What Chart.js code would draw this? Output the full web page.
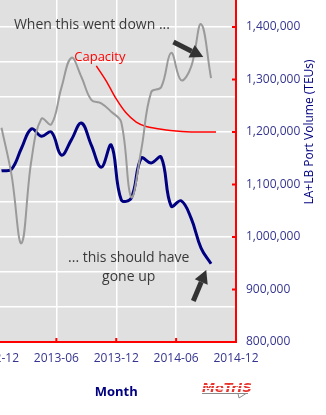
<!DOCTYPE html>
<html>
<head>
<meta charset="utf-8">
<script src="https://cdn.jsdelivr.net/npm/chart.js@4"></script>
<style>
  html, body { margin: 0; padding: 0; background: #fff; overflow: hidden; }
  #wrap { position: relative; width: 326px; height: 415px; overflow: hidden; }
  #wrap canvas { position: absolute; left: -35px; top: -98px; }
</style>
</head>
<body>
<div id="wrap"><canvas id="portChart" width="361" height="513"></canvas></div>
<script>
// monthly series, Dec 2012 - Sep 2014 (plotted mid-month)
const months = ['2012-12', '2013-01', '2013-02', '2013-03', '2013-04', '2013-05', '2013-06',
    '2013-07', '2013-08', '2013-09', '2013-10', '2013-11', '2013-12', '2014-01', '2014-02',
    '2014-03', '2014-04', '2014-05', '2014-06', '2014-07', '2014-08', '2014-09'];
const portVolume = [1126000, 1129000, 1169000, 1206000, 1192000, 1200000, 1156000,
    1185000, 1217000, 1175000, 1133000, 1175000, 1071000, 1074000, 1150000,
    1141000, 1152000, 1059000, 1069000, 1036000, 979000, 949000];
const leadIndex = [90.6, 83.9, 74.1, 86.0, 91.9, 91.1, 96.3,
    100.6, 97.9, 94.6, 94.1, 92.9, 91.4, 80.7, 87.4,
    95.7, 96.4, 101.3, 97.4, 99.3, 105.4, 97.7];

// capacity curve, month starts
const capacityMonths = ['2013-10', '2013-11', '2013-12', '2014-01', '2014-02', '2014-03', '2014-04',
    '2014-05', '2014-06', '2014-07', '2014-08', '2014-09', '2014-10'];
const capacity = [1326000, 1297000, 1263000, 1236000, 1219000, 1210500, 1206700,
    1203800, 1201900, 1200500, 1200000, 1200000, 1200000];

const tickLabels = ['2012-12', '2013-06', '2013-12', '2014-06', '2014-12'];

// text notes and arrows, in (month index, TEU) coordinates
const notes = [
    { text: 'When this went down ...', m: 9.56, v: 1403800, color: '#3a3a3a', size: 14 },
    { text: 'Capacity', m: 10.36, v: 1342900, color: '#ff0000', size: 13 },
    { text: '... this should have', m: 13.25, v: 960000, color: '#3a3a3a', size: 14 },
    { text: 'gone up', m: 13.25, v: 923800, color: '#3a3a3a', size: 14 }
];
const arrows = [
    { from: [17.73, 1371400], to: [20.72, 1342900] },
    { from: [19.72, 878100], to: [21.02, 937100] }
];

const monthIndex = s => {
    const [yr, mo] = s.split('-').map(Number);
    return (yr - 2012) * 12 + mo - 12;
};

const tickColor = '#35358f';
const navy = '#000080';

function drawArrow(ctx, x0, y0, x1, y1) {
    const ang = Math.atan2(y1 - y0, x1 - x0);
    const head = 13, half = 7;
    const bx = x1 - head * Math.cos(ang), by = y1 - head * Math.sin(ang);
    ctx.strokeStyle = '#333';
    ctx.lineWidth = 5;
    ctx.lineCap = 'butt';
    ctx.beginPath();
    ctx.moveTo(x0, y0);
    ctx.lineTo(bx, by);
    ctx.stroke();
    ctx.fillStyle = '#333';
    ctx.beginPath();
    ctx.moveTo(x1, y1);
    ctx.lineTo(bx + half * Math.sin(ang), by - half * Math.cos(ang));
    ctx.lineTo(bx - half * Math.sin(ang), by + half * Math.cos(ang));
    ctx.closePath();
    ctx.fill();
}

const chartArt = {
    id: 'chartArt',
    beforeDraw(chart) {
        const { ctx, chartArea: a } = chart;
        ctx.save();
        ctx.fillStyle = '#e0e0e0';
        ctx.fillRect(a.left, a.top, a.right - a.left, a.bottom - a.top);
        ctx.restore();
    },
    afterDraw(chart) {
        const { ctx, chartArea: a, scales: { x, y } } = chart;
        ctx.save();

        // short red ticks pointing into the plot
        ctx.strokeStyle = '#ff0000';
        ctx.lineWidth = 2;
        ctx.beginPath();
        y.ticks.forEach(t => {
            const py = y.getPixelForValue(t.value);
            ctx.moveTo(a.right - 4, py);
            ctx.lineTo(a.right, py);
        });
        x.ticks.forEach(t => {
            const px = x.getPixelForValue(t.value);
            ctx.moveTo(px, a.bottom - 4);
            ctx.lineTo(px, a.bottom);
        });
        ctx.stroke();

        // notes
        ctx.textAlign = 'center';
        ctx.textBaseline = 'middle';
        notes.forEach(n => {
            ctx.font = n.size + 'px "Open Sans"';
            ctx.fillStyle = n.color;
            ctx.fillText(n.text, x.getPixelForValue(n.m), y.getPixelForValue(n.v));
        });

        arrows.forEach(ar => {
            drawArrow(ctx,
                x.getPixelForValue(ar.from[0]), y.getPixelForValue(ar.from[1]),
                x.getPixelForValue(ar.to[0]), y.getPixelForValue(ar.to[1]));
        });

        // right axis title, reading bottom to top
        ctx.save();
        ctx.translate(a.right + 74, (a.top + a.bottom) / 2);
        ctx.rotate(-Math.PI / 2);
        ctx.font = '12px "Open Sans"';
        ctx.fillStyle = navy;
        ctx.fillText('LA+LB Port Volume (TEUs)', 0, 0);
        ctx.restore();

        // logo
        const lx = a.right - 34, ly = a.bottom + 50;
        ctx.textAlign = 'left';
        ctx.textBaseline = 'alphabetic';
        ctx.font = 'italic bold 13px "DejaVu Sans"';
        ctx.fillStyle = '#e8342c';
        ctx.fillText('MeTrIS', lx, ly);
        ctx.fillStyle = '#fff';
        ctx.fillRect(lx - 2, ly - 7, 54, 1);
        ctx.fillRect(lx - 2, ly - 4, 54, 1);
        ctx.strokeStyle = '#8a8a8a';
        ctx.lineWidth = 1;
        ctx.beginPath();
        ctx.moveTo(lx, ly + 1.5);
        ctx.lineTo(lx + 46, ly + 1.5);
        ctx.moveTo(lx + 36, ly + 1.5);
        ctx.lineTo(lx + 37, ly + 6);
        ctx.lineTo(lx + 44, ly + 1.5);
        ctx.stroke();

        ctx.restore();
    }
};

const edgeHidden = (lo, hi) => c =>
    (c.tick && (c.tick.value === lo || c.tick.value === hi)) ? 'rgba(0,0,0,0)' : '#ffffff';

new Chart(document.getElementById('portChart'), {
    type: 'line',
    data: {
        datasets: [
            {
                label: 'Index',
                yAxisID: 'yLeft',
                data: months.map((m, i) => ({ x: monthIndex(m) + 0.5, y: leadIndex[i] })),
                borderColor: '#9a9a9a',
                borderWidth: 2,
                tension: 0.4,
                pointRadius: 0
            },
            {
                label: 'Capacity',
                yAxisID: 'y',
                data: capacityMonths.map((m, i) => ({ x: monthIndex(m), y: capacity[i] })),
                borderColor: '#ff0000',
                borderWidth: 1.5,
                cubicInterpolationMode: 'monotone',
                pointRadius: 0
            },
            {
                label: 'LA+LB Port Volume',
                yAxisID: 'y',
                data: months.map((m, i) => ({ x: monthIndex(m) + 0.5, y: portVolume[i] })),
                borderColor: navy,
                borderWidth: 3,
                tension: 0.4,
                pointRadius: 0
            }
        ]
    },
    options: {
        responsive: false,
        animation: false,
        events: [],
        layout: { padding: { left: 30, top: 20, right: 0, bottom: 0 } },
        plugins: {
            legend: { display: false },
            tooltip: { enabled: false }
        },
        scales: {
            x: {
                type: 'linear',
                min: monthIndex(tickLabels[0]),
                max: monthIndex(tickLabels[tickLabels.length - 1]),
                afterFit: s => { s.height = 73; },
                ticks: {
                    stepSize: 6,
                    autoSkip: false,
                    maxRotation: 0,
                    padding: 9,
                    color: tickColor,
                    font: { family: 'Open Sans', size: 12 },
                    callback: v => tickLabels.find(t => monthIndex(t) === v) || ''
                },
                grid: { color: edgeHidden(0, 24), lineWidth: 1.5, drawTicks: false },
                border: { color: '#ff0000', width: 2, z: 1 },
                title: {
                    display: true,
                    text: 'Month',
                    color: navy,
                    font: { family: 'Open Sans', size: 13, weight: 'bold' },
                    padding: { top: 0, bottom: 15 }
                }
            },
            yLeft: {
                position: 'left',
                min: 60,
                max: 120,
                afterFit: s => { s.width = 0; },
                ticks: { display: false, stepSize: 5 },
                grid: { color: edgeHidden(60, 120), lineWidth: 1.5, drawTicks: false },
                border: { display: false }
            },
            y: {
                position: 'right',
                min: 800000,
                max: 1600000,
                afterFit: s => { s.width = 90; },
                ticks: {
                    stepSize: 100000,
                    padding: 10,
                    color: tickColor,
                    font: { family: 'Open Sans', size: 12 },
                    callback: v => v.toLocaleString('en-US')
                },
                grid: { display: false, drawTicks: false },
                border: { color: '#ff0000', width: 2, z: 1 }
            }
        }
    },
    plugins: [chartArt]
});
</script>
</body>
</html>
